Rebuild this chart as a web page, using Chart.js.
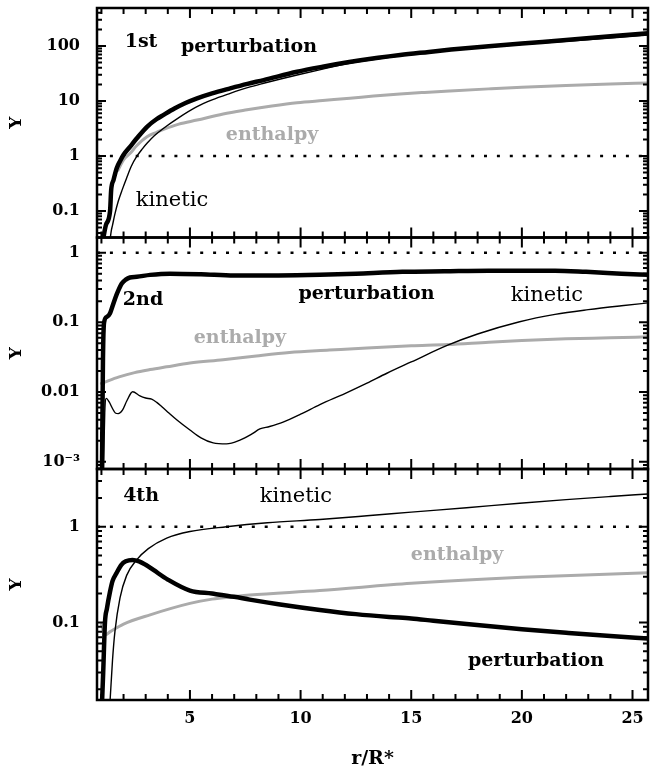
<!DOCTYPE html>
<html><head><meta charset="utf-8">
<script src="https://cdn.jsdelivr.net/npm/chart.js@4"></script>
<style>
html,body{margin:0;padding:0;background:#fff;}
#wrap{position:relative;width:652px;height:770px;}
#wrap canvas{position:absolute;left:0;top:0;}
</style></head><body>
<div id="wrap">
<canvas id="c1" width="652" height="770"></canvas>
<canvas id="c2" width="652" height="770"></canvas>
<canvas id="c3" width="652" height="770"></canvas>
</div>
<script>
// ---------- shared x axis ----------
const xTicks = [5, 10, 15, 20, 25];
const xTickLabels = ['5', '10', '15', '20', '25'];
const xTitle = 'r/R*';
const yTitle = 'Y';

// ---------- panel 1 (1st) ----------
const p1YTicks = [0.1, 1, 10, 100];
const p1YTickLabels = ['0.1', '1', '10', '100'];
const p1PertX = [1.0, 1.2, 1.39, 1.44, 1.55, 1.69, 1.85, 2.0, 2.3, 2.6, 3.06, 3.5, 3.81, 4.3, 4.8, 5.32, 6.0, 6.82, 7.6, 8.33, 9.84, 11.0, 12.2, 13.5, 14.5, 15.8, 16.8, 18.5, 20.0, 22.0, 24.0, 25.7];
const p1PertY = [0.02, 0.055, 0.1, 0.24, 0.37, 0.6, 0.82, 1.05, 1.48, 2.1, 3.4, 4.7, 5.6, 7.3, 9.2, 11.2, 13.8, 17, 20.5, 24, 34, 42, 51, 61, 68.6, 78, 86, 99, 111, 128, 150, 170];
const p1KinX = [1.39, 1.45, 1.5, 1.6, 1.76, 1.95, 2.14, 2.35, 2.61, 2.85, 3.06, 3.4, 3.81, 4.5, 5.32, 6.0, 6.82, 7.6, 8.33, 9.84, 11.0, 12.5, 14.5, 16.8, 20.0, 22.0, 24.0, 25.7];
const p1KinY = [0.03, 0.045, 0.055, 0.085, 0.15, 0.25, 0.4, 0.65, 1.0, 1.35, 1.7, 2.35, 3.2, 5.0, 7.9, 10.5, 13.8, 17.5, 21, 29.7, 38, 51, 66, 84, 107, 122, 140, 158];
const p1EntX = [1.75, 2.0, 2.3, 2.6, 3.06, 3.5, 3.81, 4.5, 5.32, 6.5, 7.58, 8.7, 9.84, 11.0, 12.23, 13.3, 14.49, 15.6, 16.75, 18.5, 20.0, 22.0, 24.0, 25.7];
const p1EntY = [0.55, 0.85, 1.12, 1.55, 2.24, 2.7, 3.05, 3.8, 4.5, 5.8, 6.9, 8.1, 9.3, 10.2, 11.2, 12.3, 13.4, 14.3, 15.2, 16.6, 17.8, 19.2, 20.3, 21.3];

// ---------- panel 2 (2nd) ----------
const p2YTicks = [0.001, 0.01, 0.1, 1];
const p2YTickLabels = ['10\u207B\u00B3', '0.01', '0.1', '1'];
const p2PertX = [1.02, 1.07, 1.12, 1.25, 1.39, 1.5, 1.62, 1.75, 1.92, 2.1, 2.29, 2.6, 3.2, 4.1, 5.5, 7.0, 9.0, 10.87, 12.5, 14.6, 16.5, 18.5, 20.0, 21.5, 22.9, 24.5, 25.7];
const p2PertY = [0.0005, 0.03, 0.1, 0.12, 0.135, 0.17, 0.22, 0.28, 0.36, 0.41, 0.44, 0.45, 0.48, 0.5, 0.49, 0.47, 0.47, 0.48, 0.5, 0.53, 0.54, 0.55, 0.55, 0.55, 0.53, 0.5, 0.48];
const p2KinX = [1.08, 1.15, 1.22, 1.35, 1.5, 1.63, 1.76, 1.95, 2.15, 2.41, 2.74, 3.0, 3.27, 3.5, 3.72, 4.05, 4.4, 5.0, 5.5, 6.05, 6.65, 7.26, 7.8, 8.16, 8.6, 9.21, 10.0, 10.87, 12.0, 13.0, 13.9, 15.0, 16.65, 18.0, 19.9, 21.5, 23.0, 24.5, 25.7];
const p2KinY = [0.0005, 0.005, 0.0081, 0.0072, 0.0058, 0.005, 0.0049, 0.0055, 0.0075, 0.0101, 0.0088, 0.0082, 0.0079, 0.0071, 0.0062, 0.005, 0.004, 0.00285, 0.0022, 0.00186, 0.0018, 0.00204, 0.0025, 0.00295, 0.0032, 0.0037, 0.0048, 0.0066, 0.0095, 0.0134, 0.0186, 0.027, 0.047, 0.068, 0.102, 0.13, 0.152, 0.173, 0.19];
const p2EntX = [1.0, 1.3, 1.8, 2.5, 3.2, 3.95, 5.0, 6.5, 8.0, 9.5, 11.3, 13.0, 15.0, 16.65, 18.5, 20.0, 22.0, 24.0, 25.7];
const p2EntY = [0.0133, 0.0145, 0.0165, 0.019, 0.021, 0.023, 0.026, 0.029, 0.033, 0.037, 0.040, 0.043, 0.046, 0.048, 0.052, 0.055, 0.058, 0.060, 0.062];

// ---------- panel 3 (4th) ----------
const p3YTicks = [0.1, 1];
const p3YTickLabels = ['0.1', '1'];
const p3PertX = [1.0, 1.08, 1.16, 1.25, 1.39, 1.5, 1.69, 1.9, 2.1, 2.4, 2.7, 3.0, 3.35, 4.0, 5.0, 6.0, 7.0, 7.7, 9.0, 10.87, 12.5, 14.0, 15.0, 16.0, 17.5, 20.0, 22.0, 24.0, 25.7];
const p3PertY = [0.01, 0.03, 0.1, 0.14, 0.21, 0.27, 0.33, 0.40, 0.435, 0.45, 0.435, 0.40, 0.353, 0.28, 0.215, 0.2, 0.185, 0.173, 0.155, 0.135, 0.122, 0.114, 0.11, 0.104, 0.096, 0.085, 0.078, 0.072, 0.068];
const p3KinX = [1.39, 1.5, 1.61, 1.84, 2.14, 2.59, 3.12, 3.95, 5.0, 6.65, 8.5, 10.87, 13.0, 15.0, 17.5, 19.9, 22.0, 24.0, 25.7];
const p3KinY = [0.015, 0.04, 0.08, 0.18, 0.31, 0.45, 0.59, 0.76, 0.89, 1.0, 1.1, 1.19, 1.3, 1.42, 1.58, 1.76, 1.92, 2.07, 2.2];
const p3EntX = [1.0, 1.16, 1.4, 2.0, 3.2, 5.0, 6.0, 7.0, 7.7, 10.87, 15.0, 20.0, 25.7];
const p3EntY = [0.095, 0.074, 0.08, 0.096, 0.12, 0.158, 0.175, 0.186, 0.193, 0.215, 0.256, 0.296, 0.33];

// ---------- text labels (data coordinates) ----------
const p1Labels = [
  {text: '1st', x: 2.79, y: 118, kind: 'bold'},
  {text: 'perturbation', x: 7.67, y: 95.7, kind: 'bold'},
  {text: 'enthalpy', x: 8.71, y: 2.41, kind: 'gray'},
  {text: 'kinetic', x: 4.19, y: 0.158, kind: 'thin'}
];
const p2Labels = [
  {text: '2nd', x: 2.88, y: 0.209, kind: 'bold'},
  {text: 'perturbation', x: 12.98, y: 0.255, kind: 'bold'},
  {text: 'kinetic', x: 21.13, y: 0.239, kind: 'thin'},
  {text: 'enthalpy', x: 7.26, y: 0.0597, kind: 'gray'}
];
const p3Labels = [
  {text: '4th', x: 2.79, y: 2.09, kind: 'bold'},
  {text: 'kinetic', x: 9.79, y: 2.09, kind: 'thin'},
  {text: 'enthalpy', x: 17.07, y: 0.506, kind: 'gray'},
  {text: 'perturbation', x: 20.64, y: 0.0395, kind: 'bold'}
];

const X_MIN = 0.8, X_MAX = 25.7;
const GRAY = '#ababab';
const FONT = 'DejaVu Serif';

function zip(xs, ys) { return xs.map((x, i) => ({x: x, y: ys[i]})); }

function lineDs(xs, ys, color, width) {
  return {data: zip(xs, ys), borderColor: color, borderWidth: width, pointRadius: 0,
          fill: false, cubicInterpolationMode: 'monotone', borderJoinStyle: 'round', borderCapStyle: 'round'};
}
function unityDs() {
  return {data: [{x: X_MIN, y: 1}, {x: X_MAX, y: 1}], borderColor: '#000', borderWidth: 2.5,
          borderDash: [3, 9.9], borderCapStyle: 'butt', pointRadius: 0, fill: false};
}

const framePlugin = {
  id: 'frame',
  afterDatasetsDraw(chart, args, opts) {
    const ctx = chart.ctx, a = chart.chartArea, xs = chart.scales.x, ys = chart.scales.y;
    ctx.save();
    ctx.strokeStyle = '#000';
    ctx.lineWidth = 2;
    ctx.lineCap = 'butt';
    ctx.beginPath();
    for (let v = 1; v <= 25; v++) {
      const px = xs.getPixelForValue(v);
      const len = v % 5 === 0 ? 10 : 6;
      ctx.moveTo(px, a.top); ctx.lineTo(px, a.top + len);
      ctx.moveTo(px, a.bottom); ctx.lineTo(px, a.bottom - len);
    }
    const lmin = Math.floor(Math.log10(ys.min)), lmax = Math.ceil(Math.log10(ys.max));
    for (let e = lmin; e <= lmax; e++) {
      for (let m = 1; m <= 9; m++) {
        const v = m * Math.pow(10, e);
        if (v < ys.min || v > ys.max) continue;
        const py = ys.getPixelForValue(v);
        const len = m === 1 ? 9 : 5;
        ctx.moveTo(a.left, py); ctx.lineTo(a.left + len, py);
        ctx.moveTo(a.right, py); ctx.lineTo(a.right - len, py);
      }
    }
    ctx.stroke();
    ctx.lineWidth = 2.5;
    ctx.strokeRect(a.left, a.top, a.right - a.left, a.bottom - a.top);
    // text labels
    ctx.textAlign = 'center';
    ctx.textBaseline = 'middle';
    (opts.labels || []).forEach(l => {
      if (l.kind === 'bold') { ctx.font = 'bold 19px "' + FONT + '"'; ctx.fillStyle = '#000'; }
      else if (l.kind === 'gray') { ctx.font = 'bold 19px "' + FONT + '"'; ctx.fillStyle = GRAY; }
      else { ctx.font = '21px "' + FONT + '"'; ctx.fillStyle = '#000'; }
      ctx.fillText(l.text, xs.getPixelForValue(l.x), ys.getPixelForValue(l.y));
    });
    ctx.restore();
  }
};

function makeChart(id, cfg) {
  const tickFont = {family: FONT, weight: 'bold', size: 16};
  const xScale = {
    type: 'linear', min: X_MIN, max: X_MAX, display: cfg.showX,
    afterBuildTicks: s => { s.ticks = xTicks.map(v => ({value: v})); },
    afterFit: s => { s.height = cfg.showX ? 70 : 0; s.paddingLeft = 0; s.paddingRight = 0; },
    grid: {display: false, drawTicks: false}, border: {display: false},
    ticks: {color: '#000', font: tickFont, padding: 9, maxRotation: 0, autoSkip: false,
            callback: v => xTickLabels[xTicks.indexOf(v)]},
    title: {display: true, text: xTitle, color: '#000', font: {family: FONT, weight: 'bold', size: 19}, padding: {top: 0, bottom: 0}}
  };
  const yScale = {
    type: 'logarithmic', min: cfg.yMin, max: cfg.yMax,
    afterBuildTicks: s => { s.ticks = cfg.yTicks.map(v => ({value: v})); },
    afterFit: s => { s.width = 97; s.paddingTop = 0; s.paddingBottom = 0; },
    grid: {display: false, drawTicks: false}, border: {display: false},
    ticks: {color: '#000', font: tickFont, padding: 17, autoSkip: false,
            callback: (v, i) => cfg.yTickLabels[i]},
    title: {display: true, text: yTitle, color: '#000', font: {family: FONT, weight: 'bold', size: 17}, padding: {top: 6, bottom: 0}}
  };
  return new Chart(document.getElementById(id), {
    type: 'line',
    data: {datasets: cfg.datasets},
    options: {
      responsive: false, animation: false, events: [],
      layout: {padding: {left: 0, right: 4, top: cfg.padTop, bottom: cfg.padBottom}},
      scales: {x: xScale, y: yScale},
      plugins: {legend: {display: false}, tooltip: {enabled: false}, frame: {labels: cfg.labels}}
    },
    plugins: [framePlugin]
  });
}

makeChart('c1', {
  showX: false, padTop: 8, padBottom: 770 - 237.5, yMin: 0.033, yMax: 490,
  yTicks: p1YTicks, yTickLabels: p1YTickLabels, labels: p1Labels,
  datasets: [lineDs(p1PertX, p1PertY, '#000', 4.5), lineDs(p1KinX, p1KinY, '#000', 1.4),
             lineDs(p1EntX, p1EntY, GRAY, 3), unityDs()]
});
makeChart('c2', {
  showX: false, padTop: 237.5, padBottom: 770 - 469, yMin: 7.86e-4, yMax: 1.65,
  yTicks: p2YTicks, yTickLabels: p2YTickLabels, labels: p2Labels,
  datasets: [lineDs(p2PertX, p2PertY, '#000', 4.5), lineDs(p2KinX, p2KinY, '#000', 1.4),
             lineDs(p2EntX, p2EntY, GRAY, 3), unityDs()]
});
makeChart('c3', {
  showX: true, padTop: 469, padBottom: 0, yMin: 0.01545, yMax: 4.01,
  yTicks: p3YTicks, yTickLabels: p3YTickLabels, labels: p3Labels,
  datasets: [lineDs(p3PertX, p3PertY, '#000', 4.5), lineDs(p3KinX, p3KinY, '#000', 1.4),
             lineDs(p3EntX, p3EntY, GRAY, 3), unityDs()]
});
</script>
</body></html>
